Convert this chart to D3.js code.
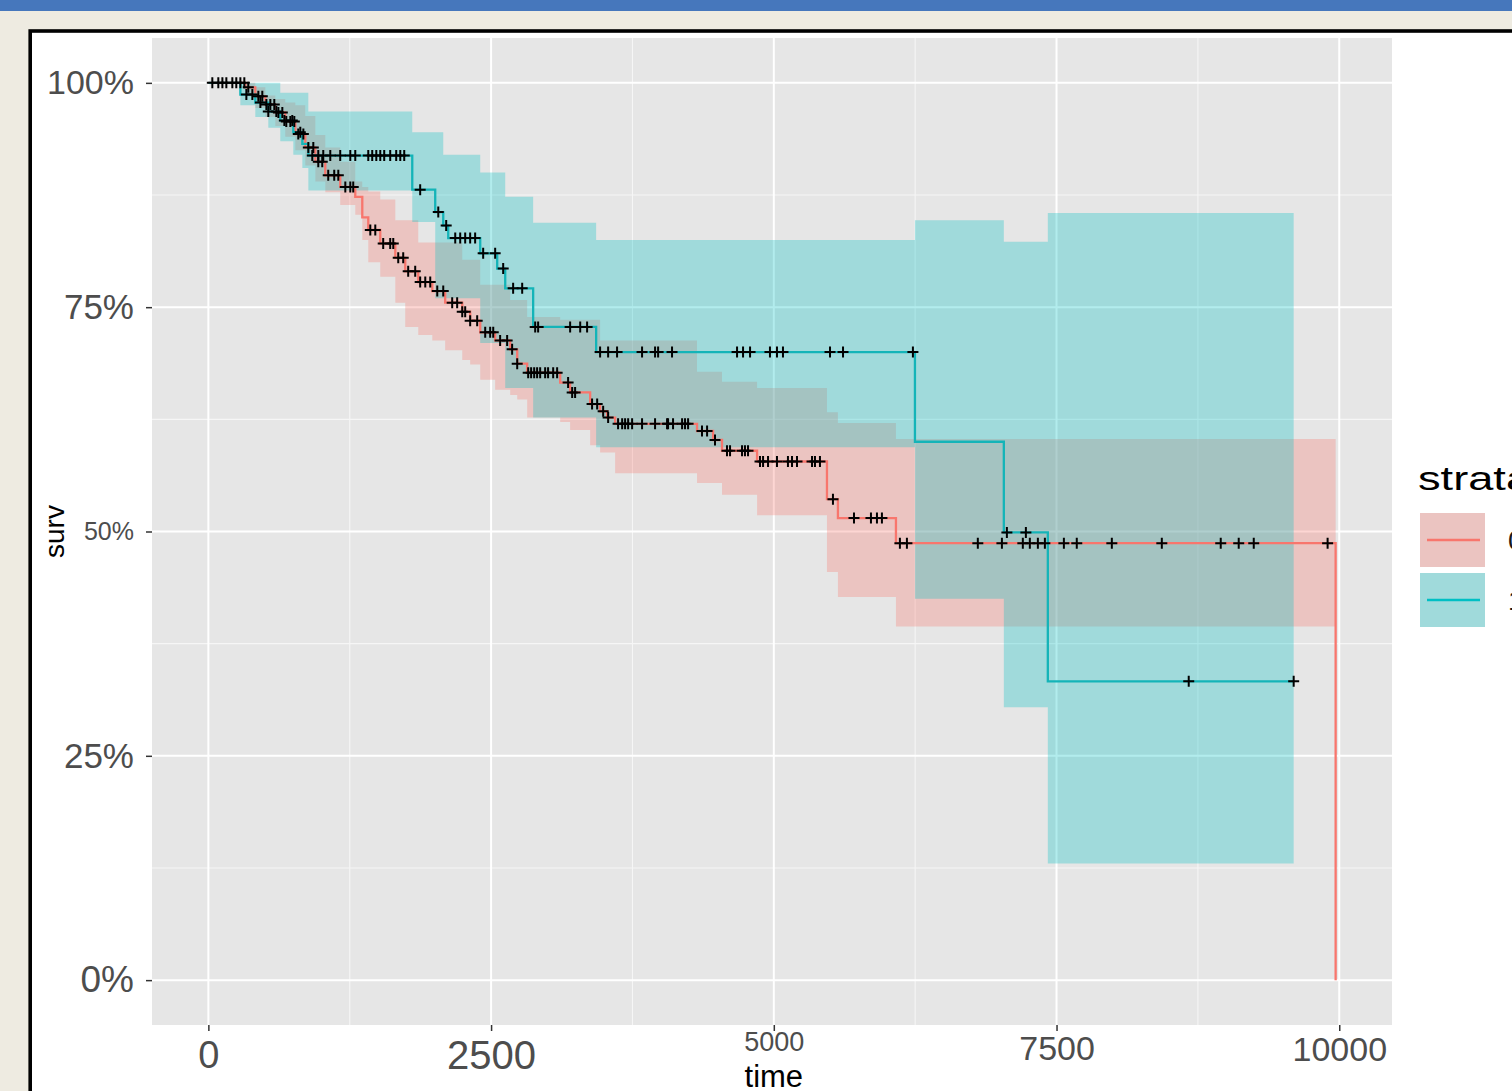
<!DOCTYPE html>
<html><head><meta charset="utf-8">
<script src="https://cdn.jsdelivr.net/npm/d3@7"></script>
<style>
html,body{margin:0;padding:0;background:#eeebe1;overflow:hidden;}
svg{display:block;}
</style></head><body>
<svg id="c" width="1512" height="1091"></svg>
<script>
// ---------- DATA ----------
const strataNames = ["0", "1"];
const xTicks = [0, 2500, 5000, 7500, 10000];
const xTickLabels = ["0", "2500", "5000", "7500", "10000"];
const xMinorTicks = [1250, 3750, 6250, 8750];
const yTicks = [0, 0.25, 0.5, 0.75, 1];
const yTickLabels = ["0%", "25%", "50%", "75%", "100%"];
const yMinorTicks = [0.125, 0.375, 0.625, 0.875];

// stratum 1 (red): step times, survival, CI
const redTime  = [0, 327, 415, 504, 592, 680, 769, 857, 946, 1034, 1166, 1299, 1361, 1414, 1520, 1653, 1741, 1856, 1980, 2094, 2245, 2315, 2404, 2536, 2669, 2731, 2819, 3111, 3199, 3376, 3464, 3526, 3597, 4321, 4463, 4542, 4852, 5470, 5567, 6080, 9968];
const redSurv  = [1.0, 0.995, 0.985, 0.976, 0.967, 0.957, 0.943, 0.928, 0.912, 0.897, 0.884, 0.873, 0.850, 0.836, 0.821, 0.805, 0.790, 0.778, 0.768, 0.755, 0.745, 0.735, 0.722, 0.713, 0.703, 0.687, 0.677, 0.666, 0.655, 0.642, 0.634, 0.627, 0.620, 0.612, 0.602, 0.590, 0.578, 0.536, 0.515, 0.487, 0.0];
const redUpper = [1.0, 1.0, 0.995, 0.986, 0.982, 0.978, 0.975, 0.963, 0.942, 0.928, 0.912, 0.890, 0.884, 0.879, 0.870, 0.847, 0.847, 0.822, 0.822, 0.822, 0.803, 0.803, 0.775, 0.775, 0.758, 0.758, 0.739, 0.736, 0.736, 0.736, 0.713, 0.713, 0.713, 0.678, 0.678, 0.667, 0.660, 0.633, 0.621, 0.603];
const redLower = [1.0, 0.985, 0.972, 0.962, 0.952, 0.940, 0.925, 0.908, 0.890, 0.878, 0.864, 0.853, 0.825, 0.800, 0.784, 0.755, 0.728, 0.719, 0.713, 0.702, 0.691, 0.686, 0.669, 0.658, 0.652, 0.647, 0.627, 0.622, 0.613, 0.596, 0.588, 0.588, 0.565, 0.554, 0.554, 0.541, 0.518, 0.455, 0.427, 0.394];
const redCensor = [124, 212, 283, 318, 353, 442, 477, 513, 548, 583, 619, 654, 689, 725, 760, 795, 840, 884, 928, 972, 1007, 1060, 1113, 1149, 1211, 1255, 1281, 1432, 1476, 1546, 1608, 1635, 1679, 1723, 1767, 1829, 1873, 1918, 1962, 2024, 2077, 2156, 2200, 2245, 2271, 2315, 2377, 2448, 2492, 2519, 2580, 2642, 2686, 2731, 2828, 2854, 2881, 2907, 2934, 2978, 3004, 3049, 3084, 3181, 3217, 3243, 3393, 3438, 3491, 3535, 3623, 3659, 3685, 3712, 3747, 3835, 3950, 4056, 4065, 4109, 4189, 4215, 4242, 4365, 4410, 4480, 4586, 4613, 4719, 4745, 4772, 4878, 4905, 4949, 5028, 5125, 5161, 5205, 5338, 5364, 5408, 5523, 5709, 5859, 5912, 5956, 6115, 6177, 6804, 7017, 7202, 7264, 7335, 7397, 7565, 7679, 7989, 8431, 8952, 9111, 9244, 9897];

// stratum 2 (teal)
const tealTime  = [0, 283, 415, 530, 636, 751, 831, 884, 1803, 2006, 2077, 2121, 2404, 2554, 2625, 2872, 3429, 6248, 7034, 7423];
const tealSurv  = [1.0, 0.987, 0.978, 0.968, 0.958, 0.945, 0.932, 0.919, 0.881, 0.856, 0.841, 0.827, 0.810, 0.793, 0.771, 0.728, 0.700, 0.600, 0.499, 0.333];
const tealUpper = [1.0, 1.0, 1.0, 1.0, 0.989, 0.989, 0.989, 0.968, 0.945, 0.945, 0.920, 0.920, 0.900, 0.900, 0.873, 0.844, 0.825, 0.847, 0.823, 0.855];
const tealLower = [1.0, 0.975, 0.962, 0.950, 0.935, 0.920, 0.905, 0.880, 0.845, 0.760, 0.760, 0.760, 0.710, 0.710, 0.660, 0.627, 0.594, 0.425, 0.304, 0.130];
const tealEnd = 9597;
const tealCensor = [35, 88, 159, 247, 336, 389, 460, 530, 601, 672, 742, 813, 919, 972, 1016, 1078, 1166, 1255, 1299, 1414, 1449, 1485, 1520, 1555, 1608, 1661, 1697, 1732, 1873, 2033, 2103, 2183, 2227, 2271, 2315, 2359, 2430, 2536, 2607, 2695, 2775, 2890, 2916, 3199, 3288, 3349, 3464, 3535, 3614, 3835, 3950, 3977, 4100, 4675, 4728, 4790, 4966, 5028, 5081, 5497, 5612, 6230, 7061, 7229, 8669, 9597];

// ---------- STYLE ----------
const RED = "#F8766D", TEAL = "#00BFC4";
const FONT = "'Liberation Sans', Arial, Helvetica, sans-serif";
const xLabelSize = {"0": 38, "2500": 40, "5000": 27, "7500": 34, "10000": 34};
const xLabelShift = {"0": 2, "2500": 2, "5000": -7, "7500": -3, "10000": -2};
const yLabelSize = {"0%": 37, "25%": 35, "50%": 25, "75%": 35, "100%": 34};
const panel = {left: 152, right: 1392, top: 38, bottom: 1025};

const svg = d3.select("#c");

// page frame
svg.append("rect").attr("x", 0).attr("y", 0).attr("width", 1512).attr("height", 1091).attr("fill", "#eeebe1");
svg.append("rect").attr("x", 0).attr("y", 0).attr("width", 1512).attr("height", 11).attr("fill", "#4677bc");
svg.append("rect").attr("x", 30.2).attr("y", 31).attr("width", 1500).attr("height", 1080)
  .attr("fill", "#ffffff").attr("stroke", "#000").attr("stroke-width", 3.6);

// scales (ggplot-like 5% expansion)
const xMax = redTime[redTime.length - 1];
const x = d3.scaleLinear().domain([-0.05 * xMax, xMax * 1.05]).range([panel.left, panel.right]);
const y = d3.scaleLinear().domain([-0.05, 1.05]).range([panel.bottom, panel.top]);

// panel + grid
svg.append("rect").attr("x", panel.left).attr("y", panel.top)
  .attr("width", panel.right - panel.left).attr("height", panel.bottom - panel.top).attr("fill", "#e6e6e6");
const grid = svg.append("g");
grid.selectAll(".vmin").data(xMinorTicks).join("line")
  .attr("x1", d => x(d)).attr("x2", d => x(d)).attr("y1", panel.top).attr("y2", panel.bottom)
  .attr("stroke", "#f6f6f6").attr("stroke-width", 1.1);
grid.selectAll(".hmin").data(yMinorTicks).join("line")
  .attr("y1", d => y(d)).attr("y2", d => y(d)).attr("x1", panel.left).attr("x2", panel.right)
  .attr("stroke", "#f6f6f6").attr("stroke-width", 1.1);
grid.selectAll(".vmaj").data(xTicks).join("line")
  .attr("x1", d => x(d)).attr("x2", d => x(d)).attr("y1", panel.top).attr("y2", panel.bottom)
  .attr("stroke", "#ffffff").attr("stroke-width", 2);
grid.selectAll(".hmaj").data(yTicks).join("line")
  .attr("y1", d => y(d)).attr("y2", d => y(d)).attr("x1", panel.left).attr("x2", panel.right)
  .attr("stroke", "#ffffff").attr("stroke-width", 2);

// helpers
function bandPoints(times, up, lo, endTime) {
  const pts = up.map((u, i) => ({t: times[i], u: u, l: lo[i]}));
  pts.push({t: endTime, u: up[up.length - 1], l: lo[lo.length - 1]});
  return pts;
}
function linePoints(times, surv, endTime) {
  const pts = times.map((t, i) => ({t: t, s: surv[i]}));
  if (endTime !== undefined) pts.push({t: endTime, s: surv[surv.length - 1]});
  return pts;
}
function survAt(times, surv, t) {
  const i = d3.bisectRight(times, t) - 1;
  return surv[Math.max(0, Math.min(i, surv.length - 1))];
}

const area = d3.area().curve(d3.curveStepAfter)
  .x(d => x(d.t)).y0(d => y(d.l)).y1(d => y(d.u));
const line = d3.line().curve(d3.curveStepAfter).x(d => x(d.t)).y(d => y(d.s));

// bands
svg.append("path").datum(bandPoints(redTime, redUpper, redLower, redTime[redTime.length - 1]))
  .attr("d", area).attr("fill", RED).attr("fill-opacity", 0.3);
svg.append("path").datum(bandPoints(tealTime, tealUpper, tealLower, tealEnd))
  .attr("d", area).attr("fill", TEAL).attr("fill-opacity", 0.3);

// curves
svg.append("path").datum(linePoints(redTime, redSurv))
  .attr("d", line).attr("fill", "none").attr("stroke", RED).attr("stroke-width", 2.3);
svg.append("path").datum(linePoints(tealTime, tealSurv, tealEnd))
  .attr("d", line).attr("fill", "none").attr("stroke", "#14b4b8").attr("stroke-width", 2.3);

// censor marks
const plus = "M-5.5,0H5.5M0,-5.5V5.5";
function drawCensor(times, surv, cens) {
  svg.append("g").selectAll("path").data(cens).join("path")
    .attr("transform", t => `translate(${x(t)},${y(survAt(times, surv, t))})`)
    .attr("d", plus).attr("stroke", "#000").attr("stroke-width", 2).attr("fill", "none");
}
drawCensor(redTime, redSurv, redCensor);
drawCensor(tealTime, tealSurv, tealCensor);

// axes
const gx = svg.append("g").attr("transform", `translate(0,${panel.bottom})`)
  .call(d3.axisBottom(x).tickValues(xTicks).tickFormat((d, i) => xTickLabels[i]).tickSize(6).tickPadding(8));
gx.select(".domain").remove();
gx.selectAll(".tick line").attr("stroke", "#333").attr("stroke-width", 1.5);
gx.selectAll(".tick text").attr("fill", "#4d4d4d").attr("font-family", FONT)
  .attr("font-size", (d, i) => xLabelSize[xTickLabels[i]])
  .attr("y", (d, i) => 14 + xLabelShift[xTickLabels[i]]);

const gy = svg.append("g").attr("transform", `translate(${panel.left},0)`)
  .call(d3.axisLeft(y).tickValues(yTicks).tickFormat((d, i) => yTickLabels[i]).tickSize(6).tickPadding(12));
gy.select(".domain").remove();
gy.selectAll(".tick line").attr("stroke", "#333").attr("stroke-width", 1.5);
gy.selectAll(".tick text").attr("fill", "#4d4d4d").attr("font-family", FONT)
  .attr("font-size", (d, i) => yLabelSize[yTickLabels[i]]);

// axis titles
svg.append("text").attr("x", (x(0) + x(10000)) / 2).attr("y", 1087).attr("text-anchor", "middle")
  .attr("font-family", FONT).attr("font-size", 31).attr("fill", "#000").text("time");
svg.append("text").attr("transform", `translate(64,${y(0.5)}) rotate(-90)`).attr("text-anchor", "middle")
  .attr("font-family", FONT).attr("font-size", 28).attr("fill", "#000").text("surv");

// legend
const leg = svg.append("g");
leg.append("text").attr("transform", "translate(1418,490) scale(1.33,1)")
  .attr("font-family", FONT).attr("font-size", 34).attr("fill", "#000").text("strata");
const keyColors = [RED, TEAL];
strataNames.forEach((name, i) => {
  const ky = 513 + i * 60;
  leg.append("rect").attr("x", 1420).attr("y", ky).attr("width", 65).attr("height", 54).attr("fill", "#e6e6e6");
  leg.append("rect").attr("x", 1420).attr("y", ky).attr("width", 65).attr("height", 54)
    .attr("fill", keyColors[i]).attr("fill-opacity", 0.3);
  leg.append("line").attr("x1", 1427).attr("x2", 1480).attr("y1", ky + 27).attr("y2", ky + 27)
    .attr("stroke", keyColors[i]).attr("stroke-width", 2.3);
  leg.append("text").attr("x", 1508).attr("y", ky + 37).attr("font-family", FONT)
    .attr("font-size", 28).attr("fill", "#1a1a1a").text(name);
});
</script>
</body></html>
